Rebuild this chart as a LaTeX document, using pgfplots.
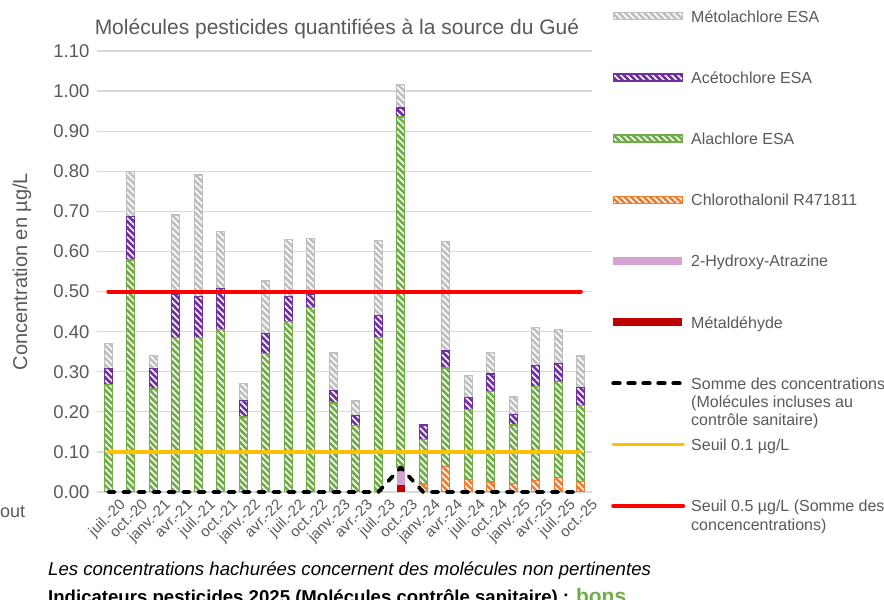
\documentclass[border=0pt]{standalone}
\usepackage{fontspec}
\setmainfont{Liberation Sans}
\usepackage{pgfplots}
\usepackage{pgfplotstable}
\pgfplotsset{compat=1.18}
\usetikzlibrary{patterns.meta}
\definecolor{cgrey}{HTML}{BFBFBF}
\definecolor{cpurple}{HTML}{7030A0}
\definecolor{cgreen}{HTML}{70AD47}
\definecolor{corange}{HTML}{ED7D31}
\definecolor{cpink}{HTML}{D5A3D2}
\definecolor{cdred}{HTML}{C00000}
\definecolor{cyellow}{HTML}{FFC000}
\definecolor{cred}{HTML}{FF0000}
\definecolor{ctext}{HTML}{595959}
\definecolor{cgrid}{HTML}{D9D9D9}
\tikzset{hatchbar/.style={preaction={fill=#1},
  pattern={Lines[angle=-45,distance=4.5pt,line width=1.6pt]}, pattern color=white,
  draw=#1, line width=1.3pt}}
\pgfplotsset{lineleg/.style={legend image code/.code={\draw[##1] (0pt,0pt) -- (70pt,0pt);}}}

\pgfplotstableread{
x met hyd chl ala ace meto somme
0 0 0 0 0.268 0.040 0.062 0
1 0 0 0 0.579 0.108 0.112 0
2 0 0 0 0.257 0.051 0.033 0
3 0 0 0 0.386 0.106 0.199 0
4 0 0 0 0.386 0.102 0.303 0
5 0 0 0 0.406 0.101 0.143 0
6 0 0 0 0.187 0.042 0.041 0
7 0 0 0 0.346 0.050 0.130 0
8 0 0 0 0.425 0.063 0.141 0
9 0 0 0 0.461 0.032 0.140 0
10 0 0 0 0.222 0.032 0.093 0
11 0 0 0 0.166 0.025 0.036 0
12 0 0 0 0.385 0.056 0.186 0
13 0.018 0.043 0 0.874 0.023 0.059 0.061
14 0 0 0.020 0.111 0.036 0 0
15 0 0 0.063 0.246 0.043 0.273 0
16 0 0 0.032 0.174 0.030 0.055 0
17 0 0 0.025 0.225 0.044 0.054 0
18 0 0 0.022 0.145 0.027 0.043 0
19 0 0 0.028 0.236 0.051 0.095 0
20 0 0 0.036 0.240 0.044 0.086 0
21 0 0 0.026 0.189 0.045 0.079 0
}\datatab

\pgfplotstableread{
x seuil
0 0.5
21 0.5
}\seuilA
\pgfplotstableread{
x seuil
0 0.1
21 0.1
}\seuilB

\begin{document}
\begin{tikzpicture}
\useasboundingbox (0pt,0pt) rectangle (884pt,600pt);
\begin{axis}[
  at={(97pt,108pt)}, anchor=south west,
  scale only axis, width=495pt, height=441pt,
  xmin=-0.5, xmax=21.5, ymin=0, ymax=1.1, enlargelimits=false,
  ybar stacked, bar width=8pt,
  axis line style={draw=none},
  major tick length=0pt,
  ytick={0,0.1,0.2,0.3,0.4,0.5,0.6,0.7,0.8,0.9,1.0,1.1},
  ymajorgrids, grid style={draw=cgrid, line width=1.3pt},
  xtick={0,...,21},
  xticklabels={juil.-20,oct.-20,janv.-21,avr.-21,juil.-21,oct.-21,janv.-22,avr.-22,juil.-22,oct.-22,janv.-23,avr.-23,juil.-23,oct.-23,janv.-24,avr.-24,juil.-24,oct.-24,janv.-25,avr.-25,juil.-25,oct.-25},
  /pgf/number format/assume math mode=true,
  yticklabel style={/pgf/number format/fixed, /pgf/number format/fixed zerofill, /pgf/number format/precision=2,
    font=\fontsize{18.5}{20}\selectfont, text=ctext, anchor=east, xshift=-4pt},
  xticklabel style={xshift=10pt, yshift=-6pt, font=\fontsize{15}{17}\selectfont, text=ctext, rotate=45, anchor=north east, inner sep=0pt},
  ylabel={Concentration en µg/L},
  ylabel style={at={(axis description cs:-0.1515,0.5)}, anchor=center, font=\fontsize{20}{22}\selectfont, text=ctext},
  title={Molécules pesticides quantifiées à la source du Gué},
  title style={at={(axis description cs:0.4848,1.0227)}, anchor=base, font=\fontsize{21}{24}\selectfont, text=ctext},
]
\addplot[fill=cdred, draw=none] table[x=x,y=met] \datatab;
\addplot[fill=cpink, draw=none] table[x=x,y=hyd] \datatab;
\addplot[hatchbar=corange] table[x=x,y=chl] \datatab;
\addplot[hatchbar=cgreen] table[x=x,y=ala] \datatab;
\addplot[hatchbar=cpurple] table[x=x,y=ace] \datatab;
\addplot[hatchbar=cgrey] table[x=x,y=meto] \datatab;
\end{axis}

\begin{axis}[
  at={(97pt,108pt)}, anchor=south west,
  scale only axis, width=495pt, height=441pt,
  xmin=-0.5, xmax=21.5, ymin=0, ymax=1.1, enlargelimits=false,
  hide axis, clip=false,
  legend cell align=left,
  legend style={at={(axis description cs:1.0384,1.0930)}, anchor=north west, draw=none, fill=none,
    inner sep=0pt, row sep=49.2pt, column sep=6pt,
    nodes={inner sep=0pt, text height=12pt, text depth=0pt, text=ctext, font=\fontsize{16}{18.3}\selectfont}},
]
\addlegendimage{legend image code/.code={\path[hatchbar=cgrey] (0pt,-3.5pt) rectangle (69pt,3.5pt);}}
\addlegendentry{Métolachlore ESA}
\addlegendimage{legend image code/.code={\path[hatchbar=cpurple] (0pt,-3.5pt) rectangle (69pt,3.5pt);}}
\addlegendentry{Acétochlore ESA}
\addlegendimage{legend image code/.code={\path[hatchbar=cgreen] (0pt,-3.5pt) rectangle (69pt,3.5pt);}}
\addlegendentry{Alachlore ESA}
\addlegendimage{legend image code/.code={\path[hatchbar=corange] (0pt,-3.5pt) rectangle (69pt,3.5pt);}}
\addlegendentry{Chlorothalonil R471811}
\addlegendimage{legend image code/.code={\path[fill=cpink, draw=none] (0pt,-4pt) rectangle (69pt,4pt);}}
\addlegendentry{2-Hydroxy-Atrazine}
\addlegendimage{legend image code/.code={\path[fill=cdred, draw=none] (0pt,-4pt) rectangle (69pt,4pt);}}
\addlegendentry{Métaldéhyde}
\addplot[black, line width=3.8pt, line cap=round, line join=round, dash pattern=on 6.5pt off 8.5pt, lineleg] table[x=x,y=somme] \datatab;
\addlegendentry{\begin{tabular}[t]{@{}l@{}}Somme des concentrations\\(Molécules incluses au\\contrôle sanitaire)\end{tabular}}
\addplot[cyellow, line width=3.5pt, line cap=round, lineleg] table[x=x,y=seuil] \seuilB;
\addlegendentry{Seuil 0.1 µg/L}
\addplot[cred, line width=4pt, line cap=round, lineleg] table[x=x,y=seuil] \seuilA;
\addlegendentry{\begin{tabular}[t]{@{}l@{}}Seuil 0.5 µg/L (Somme des\\concencentrations)\end{tabular}}
\end{axis}

\node[anchor=base west, inner sep=0pt, text=ctext, font=\fontsize{18}{20}\selectfont] at (0pt,82pt) {out};
\node[anchor=base west, inner sep=0pt, font=\fontsize{18.6}{20}\selectfont\itshape] at (48pt,24pt) {Les concentrations hachurées concernent des molécules non pertinentes};
\node[anchor=base west, inner sep=0pt, font=\fontsize{18.6}{20}\selectfont\bfseries] at (48pt,-4pt) {Indicateurs pesticides 2025 (Molécules contrôle sanitaire) : \textcolor{cgreen}{\fontsize{21}{22}\selectfont bons}};
\end{tikzpicture}
\end{document}
